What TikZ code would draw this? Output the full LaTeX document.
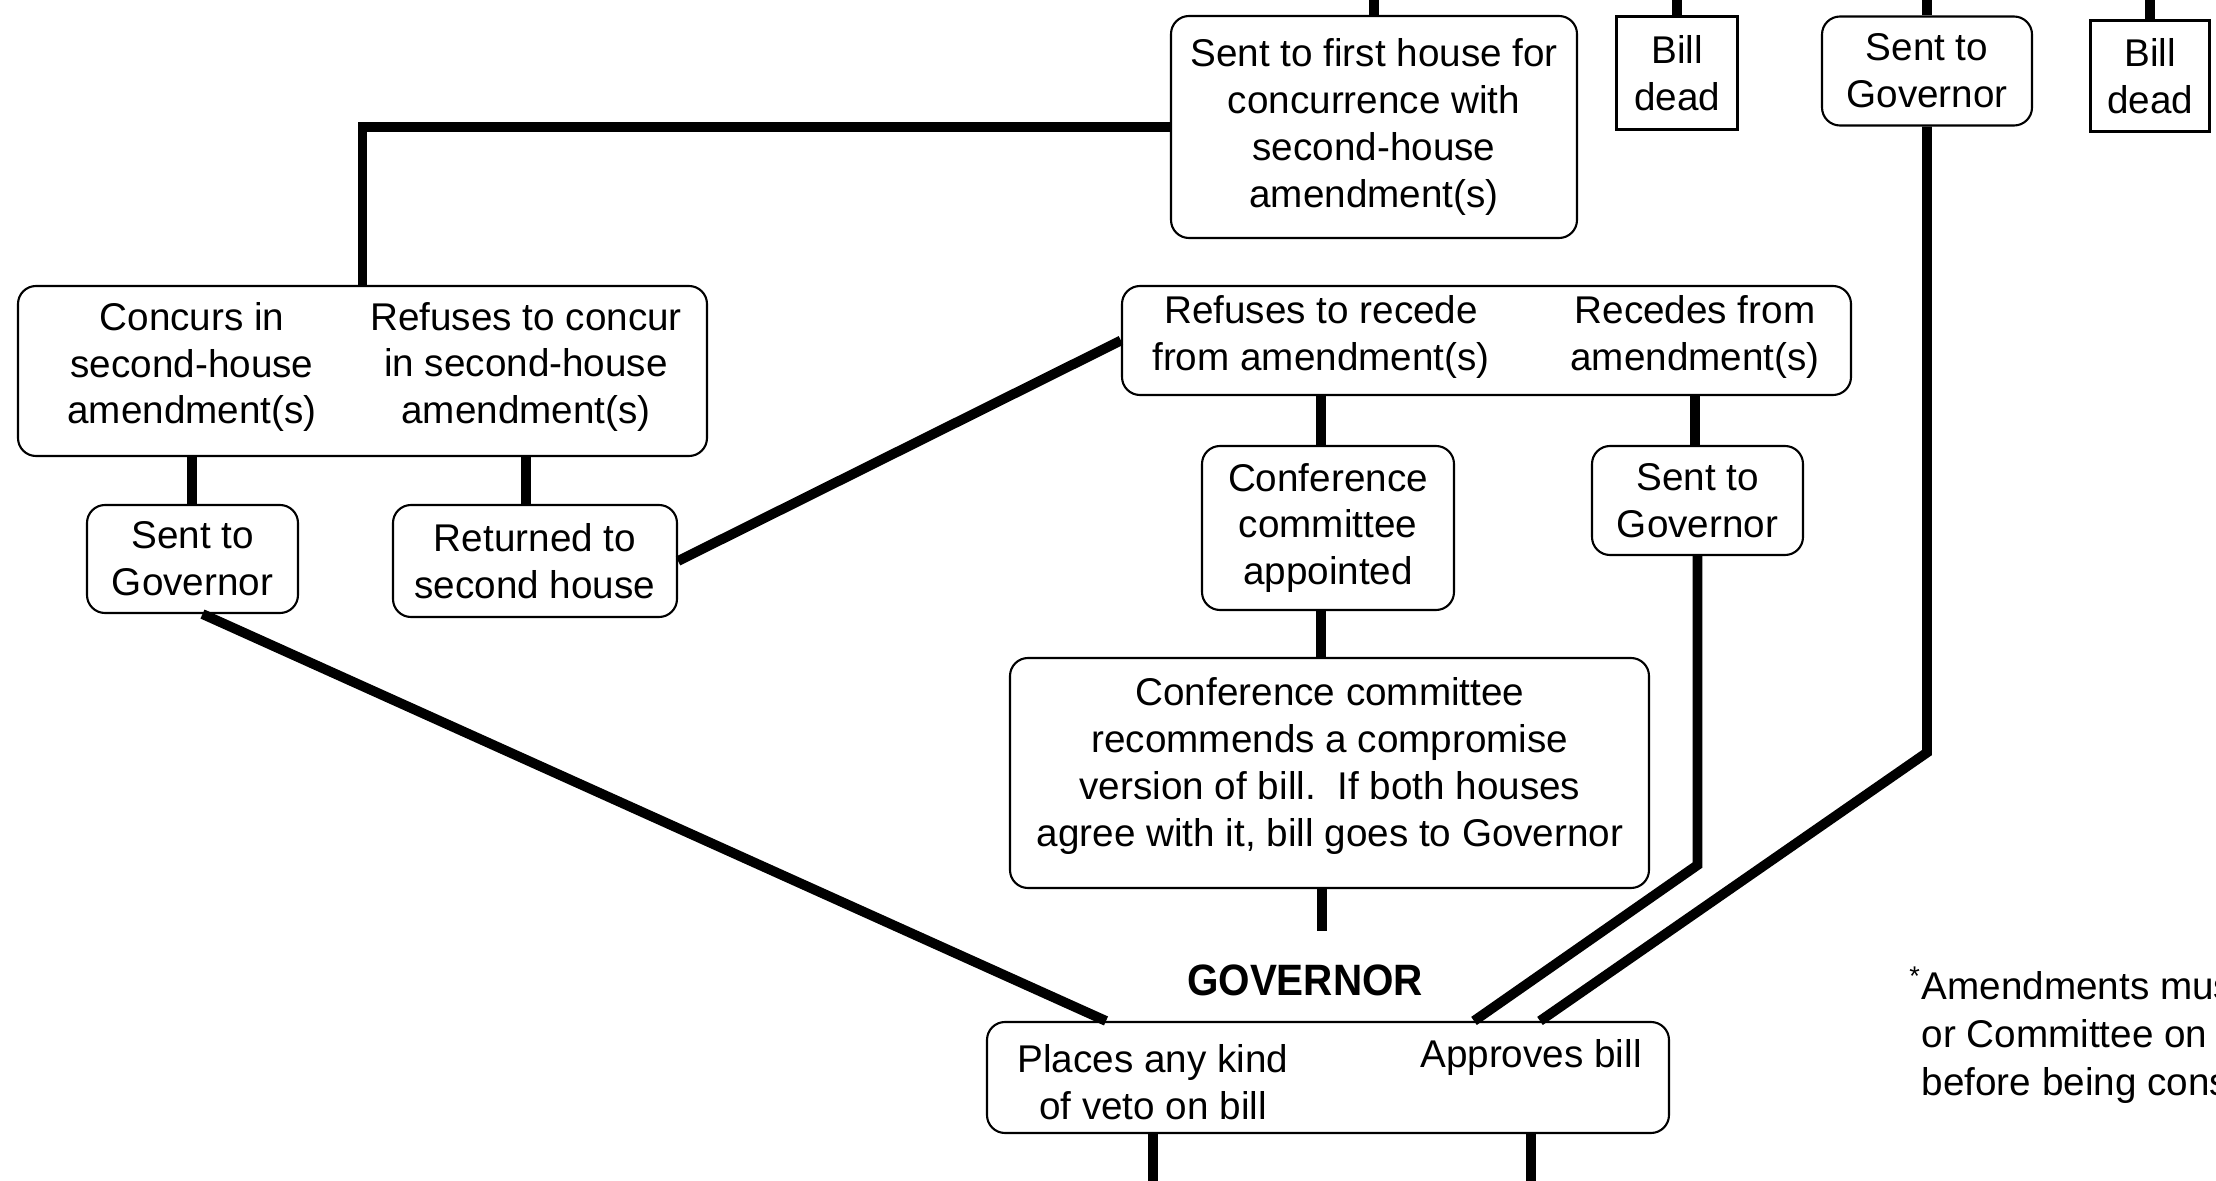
\documentclass[tikz,border=0pt]{standalone}
\usepackage{fontspec}
\setmainfont{Liberation Sans}

\tikzset{
  box/.style={draw, line width=0.6pt, rounded corners=0.18cm, align=center, inner sep=0pt},
  deadbox/.style={draw, line width=0.6pt, align=center, inner sep=0pt},
  txt/.style={align=center, inner sep=0pt},
  link/.style={line width=2.8pt}
}

\begin{document}
\begin{tikzpicture}[font=\fontsize{11}{13.3}\selectfont]
  \useasboundingbox (0,0) rectangle (22.16,-11.81);
  \clip (0,0) rectangle (22.16,-11.81);
  \coordinate (top) at (0,0);
  \coordinate (bottom) at (0,-11.81);

  % top row
  \node[box, minimum width=4.06cm, minimum height=2.22cm] (first) at (13.74,-1.27)
    {Sent to first house for\\concurrence with\\second-house\\amendment(s)};
  \node[deadbox, minimum width=1.21cm, minimum height=1.13cm] (deadA) at (16.77,-0.73) {Bill\\dead};
  \node[box, minimum width=2.10cm, minimum height=1.09cm] (govtop) at (19.27,-0.71) {Sent to\\Governor};
  \node[deadbox, minimum width=1.19cm, minimum height=1.11cm] (deadB) at (21.50,-0.76) {Bill\\dead};

  % first house answers
  \node[box, minimum width=6.89cm, minimum height=1.70cm] (concur) at (3.625,-3.71) {};
  \node[txt] (concurin) at (1.92,-3.67) {Concurs in\\second-house\\amendment(s)};
  \node[txt] (refuse) at (5.26,-3.67) {Refuses to concur\\in second-house\\amendment(s)};
  \node[box, minimum width=2.11cm, minimum height=1.08cm] (govleft) at (1.925,-5.59) {Sent to\\Governor};
  \node[box, minimum width=2.84cm, minimum height=1.12cm] (returned) at (5.35,-5.61) {Returned to\\second house};

  % second house answers
  \node[box, minimum width=7.29cm, minimum height=1.09cm] (recede) at (14.865,-3.405) {};
  \node[txt] (refrec) at (13.21,-3.37) {Refuses to recede\\from amendment(s)};
  \node[txt] (recfrom) at (16.95,-3.37) {Recedes from\\amendment(s)};
  \node[box, minimum width=2.52cm, minimum height=1.64cm] (confapp) at (13.28,-5.28) {Conference\\committee\\appointed};
  \node[box, minimum width=2.11cm, minimum height=1.09cm] (govright) at (16.975,-5.005) {Sent to\\Governor};
  \node[box, minimum width=6.39cm, minimum height=2.30cm] (confrec) at (13.295,-7.73) {};
  \node[txt] (confrectxt) at (13.30,-7.66)
    {Conference committee\\recommends a compromise\\version of bill.\ \ If both houses\\agree with it, bill goes to Governor};
  \coordinate (confend) at (13.22,-9.31);

  % governor
  \node[font=\fontsize{12.5}{15}\selectfont\bfseries] (govlabel) at (13.05,-9.80) {\scalebox{0.92}[1]{GOVERNOR}};
  \node[box, minimum width=6.82cm, minimum height=1.11cm] (governor) at (13.28,-10.775) {};
  \node[txt] (veto) at (11.53,-10.82) {Places any kind\\of veto on bill};
  \node[txt] (approve) at (15.31,-10.575) {Approves bill};

  \node[txt, align=left, anchor=north west, font=\fontsize{11}{13.7}\selectfont] (note) at (19.21,-9.66)
    {\llap{\textsuperscript{*}}Amendments mus\\or Committee on\\before being cons};

  % connectors
  \draw[link] (first.north) -- (first.north |- top);
  \draw[link] (deadA.north) -- (deadA.north |- top);
  \draw[link] (govtop.north) -- (govtop.north |- top);
  \draw[link] (deadB.north) -- (deadB.north |- top);
  \draw[link] (first.west) -| (concur.north);
  \draw[link] (concurin |- concur.south) -- (concurin |- govleft.north);
  \draw[link] (refuse |- concur.south) -- (refuse |- returned.north);
  \draw[link] (returned.east) -- (recede.west);
  \draw[link] (refrec |- recede.south) -- (refrec |- confapp.north);
  \draw[link] (recfrom |- recede.south) -- (recfrom |- govright.north);
  \draw[link] (confapp.south -| refrec) -- (refrec |- confrec.north);
  \draw[link] (confrec.south -| confend) -- (confend);
  \draw[link] ([xshift=0.1cm]govleft.south) -- ([xshift=-2.22cm]governor.north);
  \draw[link] (govright.south) -- ++(0,-3.09) -- ([xshift=1.46cm]governor.north);
  \draw[link] (govtop.south) -- ++(0,-6.26) -- ([xshift=2.12cm]governor.north);
  \draw[link] (veto |- governor.south) -- (veto |- bottom);
  \draw[link] (approve |- governor.south) -- (approve |- bottom);
\end{tikzpicture}
\end{document}
